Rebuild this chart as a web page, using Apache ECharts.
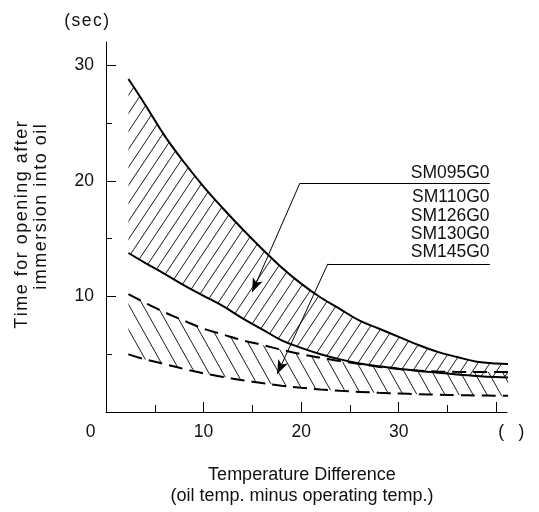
<!DOCTYPE html>
<html><head><meta charset="utf-8">
<script src="https://cdn.jsdelivr.net/npm/echarts@6/dist/echarts.min.js"></script>
<style>html,body{margin:0;padding:0;background:#fff}#c{width:539px;height:512px}</style>
</head><body><div id="c"></div>
<script>
// ---- data ----
const tempDiff   = [2.3, 4, 6, 8, 10, 12, 14, 16, 18, 20, 22, 24, 26, 28, 30, 32, 34, 36, 38, 40, 41.8];
const slowUpper  = [28.8, 26.6, 23.9, 21.6, 19.5, 17.6, 15.8, 14.1, 12.5, 11.1, 9.9, 8.9, 7.9, 7.2, 6.5, 5.8, 5.2, 4.75, 4.35, 4.2, 4.15];
const slowLower  = [13.75, 12.9, 11.95, 10.96, 10.05, 9.15, 8.1, 7.15, 6.2, 5.55, 5.0, 4.55, 4.2, 3.95, 3.75, 3.55, 3.4, 3.25, 3.12, 3.02, 2.96];
const fastUpper  = [10.2, 9.45, 8.62, 7.9, 7.2, 6.7, 6.2, 5.8, 5.38, 5.0, 4.7, 4.4, 4.15, 3.9, 3.72, 3.58, 3.5, 3.47, 3.45, 3.45, 3.45];
const fastLower  = [4.98, 4.55, 4.15, 3.72, 3.35, 3.02, 2.75, 2.5, 2.28, 2.1, 1.95, 1.83, 1.74, 1.66, 1.6, 1.54, 1.5, 1.46, 1.43, 1.41, 1.4];
const xLabelValues = [0, 10, 20, 30, 40];
const xLabelTexts  = ['0', '10', '20', '30', '(   )'];
const xMajorTicks  = [10, 20, 30, 40];
const xMinorTicks  = [5, 15, 25, 35];
const yLabelValues = [10, 20, 30];
const yMinorTicks  = [5, 15, 25];
const modelNames   = ['SM095G0', 'SM110G0', 'SM126G0', 'SM130G0', 'SM145G0'];
const pointerSlow  = [[39.35, 19.78], [19.87, 19.78], [14.98, 10.37]];
const pointerFast  = [[39.35, 12.82], [22.74, 12.82], [17.55, 3.29]];

const FONT = '"Liberation Sans", Arial, sans-serif';
const INK = '#111';
const spaced = s => s.split('').join('\u200A');

function hatch(w, h, dir) {
  const c = document.createElement('canvas'); c.width = w; c.height = h;
  const g = c.getContext('2d'); g.strokeStyle = '#1a1a1a'; g.lineWidth = 1;
  for (let k = -1; k <= 1; k++) {
    g.beginPath();
    if (dir > 0) { g.moveTo(k * w, h); g.lineTo(k * w + w, 0); }
    else { g.moveTo(k * w, 0); g.lineTo(k * w + w, h); }
    g.stroke();
  }
  return c;
}
// items stored as [value, temperature] so that the stack runs on the value (y) dimension
const pairs = (xs, ys) => xs.map((x, i) => [ys[i], x]);
const diff = (a, b) => a.map((v, i) => +(v - b[i]).toFixed(3));

const chart = echarts.init(document.getElementById('c'), null, {renderer: 'canvas'});
const axisCommon = {type: 'value', splitLine: {show: false}};
const solid = {color: '#000', width: 2};
const dashed = {color: '#000', width: 2, type: [14, 7]};
const enc = {x: 1, y: 0};

const option = {
  animation: false,
  backgroundColor: '#fff',
  grid: {left: 106, right: 32, top: 42, bottom: 100},
  xAxis: [
    Object.assign({}, axisCommon, {
      min: 0, max: 41.1, position: 'bottom',
      axisLine: {show: true, lineStyle: {color: '#000', width: 1}},
      axisTick: {show: true, inside: true, length: 10, customValues: xMajorTicks, lineStyle: {color: '#000', width: 1}},
      axisLabel: {
        show: true, margin: 11, customValues: xLabelValues,
        color: INK, fontSize: 17.5, fontFamily: FONT,
        formatter: v => {
          const i = xLabelValues.indexOf(v);
          if (i === 0) return '{l|' + xLabelTexts[i] + '}';
          if (i === xLabelValues.length - 1) return '{r|' + xLabelTexts[i] + '}';
          return i >= 0 ? xLabelTexts[i] : '';
        },
        rich: {
          l: {padding: [0, 31, 0, 0], fontSize: 17.5, fontFamily: FONT, color: INK},
          r: {padding: [0, 0, 0, 30], fontSize: 17.5, fontFamily: FONT, color: INK}
        }
      }
    }),
    Object.assign({}, axisCommon, {
      min: 0, max: 41.1, position: 'bottom',
      axisLine: {show: false},
      axisTick: {show: true, inside: true, length: 7, customValues: xMinorTicks, lineStyle: {color: '#000', width: 1}},
      axisLabel: {show: false}
    })
  ],
  yAxis: [
    Object.assign({}, axisCommon, {
      min: 0, max: 32, position: 'left',
      axisLine: {show: true, lineStyle: {color: '#000', width: 1}},
      axisTick: {show: true, inside: true, length: 10, customValues: yLabelValues, lineStyle: {color: '#000', width: 1}},
      axisLabel: {show: true, margin: 12, customValues: yLabelValues, color: INK, fontSize: 17.5, fontFamily: FONT}
    }),
    Object.assign({}, axisCommon, {
      min: 0, max: 32, position: 'left',
      axisLine: {show: false},
      axisTick: {show: true, inside: true, length: 6, customValues: yMinorTicks, lineStyle: {color: '#000', width: 1}},
      axisLabel: {show: false}
    })
  ],
  series: [
    {type: 'line', name: 'fastLower', data: pairs(tempDiff, fastLower), encode: enc, stack: 'fast', smooth: 0.4,
     showSymbol: false, clip: false, lineStyle: dashed, silent: true, z: 2},
    {type: 'line', name: 'fastBand', data: pairs(tempDiff, diff(fastUpper, fastLower)), encode: enc, stack: 'fast', smooth: 0.4,
     showSymbol: false, clip: false, lineStyle: dashed, silent: true, z: 2,
     areaStyle: {color: {image: hatch(14, 25, -1), repeat: 'repeat'}, opacity: 1}},
    {type: 'line', name: 'slowLower', data: pairs(tempDiff, slowLower), encode: enc, stack: 'slow', smooth: 0.4,
     showSymbol: false, clip: false, lineStyle: solid, silent: true, z: 3},
    {type: 'line', name: 'slowBand', data: pairs(tempDiff, diff(slowUpper, slowLower)), encode: enc, stack: 'slow', smooth: 0.4,
     showSymbol: false, clip: false, lineStyle: solid, silent: true, z: 3,
     areaStyle: {color: {image: hatch(12, 18, 1), repeat: 'repeat'}, opacity: 1}},
    {type: 'line', name: 'pointers', data: [], silent: true, z: 4,
     markLine: {
       silent: true, animation: false, symbol: ['none', 'none'],
       label: {show: false},
       lineStyle: {color: '#000', width: 1, type: 'solid'},
       data: [
         [{coord: pointerSlow[0], symbol: 'none'}, {coord: pointerSlow[1], symbol: 'none'}],
         [{coord: pointerSlow[1], symbol: 'none'}, {coord: pointerSlow[2], symbol: 'arrow', symbolSize: [8, 14]}],
         [{coord: pointerFast[0], symbol: 'none'}, {coord: pointerFast[1], symbol: 'none'}],
         [{coord: pointerFast[1], symbol: 'none'}, {coord: pointerFast[2], symbol: 'arrow', symbolSize: [8, 14]}]
       ]
     }}
  ],
  graphic: [
    {type: 'text', x: 86.7, y: 21, style: {text: spaced('(sec)'), fontSize: 17.5, fontFamily: FONT, fill: INK, align: 'center', verticalAlign: 'middle'}},
    {type: 'text', x: 22, y: 225, rotation: Math.PI / 2, style: {text: spaced('Time for opening after'), fontSize: 18, fontFamily: FONT, fill: INK, align: 'center', verticalAlign: 'middle'}},
    {type: 'text', x: 41, y: 207, rotation: Math.PI / 2, style: {text: spaced('immersion into oil'), fontSize: 18, fontFamily: FONT, fill: INK, align: 'center', verticalAlign: 'middle'}},
    {type: 'text', x: 302, y: 475, style: {text: 'Temperature Difference', fontSize: 18, fontFamily: FONT, fill: INK, align: 'center', verticalAlign: 'middle'}},
    {type: 'text', x: 302, y: 496, style: {text: '(oil temp. minus operating temp.)', fontSize: 18, fontFamily: FONT, fill: INK, align: 'center', verticalAlign: 'middle'}}
  ].concat(modelNames.map((n, i) => ({
    type: 'text', x: 489.5, y: [173.5, 197.2, 215.8, 234.2, 252.6][i],
    style: {text: n, fontSize: 17.5, fontFamily: FONT, fill: INK, align: 'right', verticalAlign: 'middle'}
  })))
};
chart.setOption(option);
</script></body></html>
